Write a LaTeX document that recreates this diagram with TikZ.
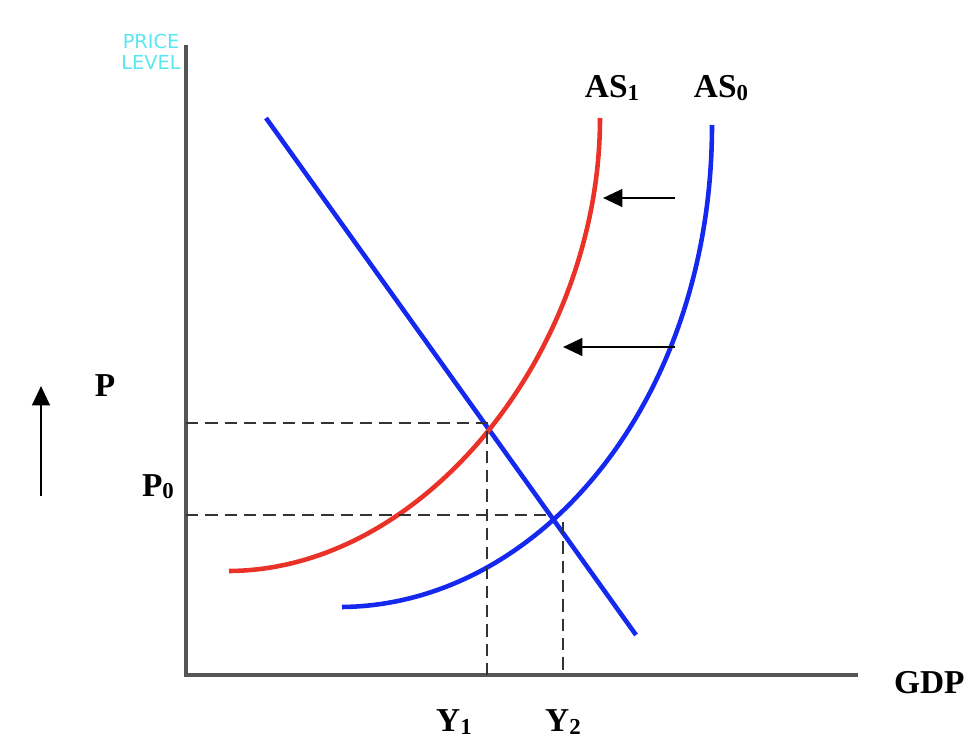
\documentclass[tikz,border=0pt]{standalone}
\usepackage{fontspec}
\setmainfont{Liberation Serif}
\newfontfamily\handfont{DejaVu Sans}
\usetikzlibrary{arrows.meta}
\definecolor{axisgray}{RGB}{85, 85, 85}
\definecolor{curvered}{RGB}{235, 50, 40}
\definecolor{curveblue}{RGB}{20, 40, 240}
\definecolor{handcyan}{RGB}{90, 230, 240}
\newcommand{\lowsub}[1]{\raisebox{-0.15ex}{\fontsize{13}{14}\selectfont #1}}

\begin{document}
\begin{tikzpicture}[x=0.02cm, y=-0.02cm,
    axis/.style={draw=axisgray, line width=2.6pt},
    curve/.style={line width=2.6pt},
    guide/.style={draw=black!80, line width=1.3pt, dash pattern=on 7pt off 4pt},
    shiftarrow/.style={-{Triangle[length=11pt,width=10pt]}, line width=1.5pt, black},
    lbl/.style={font=\fontsize{19}{22}\selectfont\bfseries, inner sep=1pt}
]
\useasboundingbox (0,0) rectangle (980,753);

%% axes
\coordinate (O)    at (186,675);
\coordinate (ytop) at (186,45);
\coordinate (xend) at (858,675);
\draw[axis] (ytop) -- (O) -- (xend);

%% equilibrium points
\coordinate (E1) at (487,423);
\coordinate (E0) at (553,515);

%% demand line
\coordinate (ADa) at (266,118);
\coordinate (ADb) at (636,635);
\draw[curve, curveblue] (ADa) -- (ADb);

%% supply curves
\coordinate (S1a) at (229,571);
\coordinate (S1b) at (600,118);
\draw[curve, curvered] (S1a) .. controls (425,570) and (600,350) .. (S1b);
\coordinate (S0a) at (342,607);
\coordinate (S0b) at (712,125);
\draw[curve, curveblue] (S0a) .. controls (540,605) and (712,400) .. (S0b);

%% dashed guides
\coordinate (P1axis) at (186,423);
\coordinate (P0axis) at (186,515);
\coordinate (Y1axis) at (487,675);
\coordinate (Y2top)  at (563,522);
\coordinate (Y2axis) at (563,675);
\draw[guide] (P1axis) -- (E1) -- (Y1axis);
\draw[guide] (P0axis) -- (E0);
\draw[guide] (Y2top) -- (Y2axis);

%% shift arrows
\coordinate (sh1a) at (675,198);
\coordinate (sh1b) at (603,198);
\coordinate (sh2a) at (675,347);
\coordinate (sh2b) at (563,347);
\draw[shiftarrow] (sh1a) -- (sh1b);
\draw[shiftarrow] (sh2a) -- (sh2b);

%% price up arrow
\coordinate (up0) at (41,496);
\coordinate (up1) at (41,386);
\draw[shiftarrow] (up0) -- (up1);

%% labels
\node[lbl] (as1) at (612,88)  {AS\lowsub{1}};
\node[lbl] (as0) at (721,88)  {AS\lowsub{0}};
\node[lbl] (p)   at (105,386) {P};
\node[lbl] (p0)  at (158,487) {P\lowsub{0}};
\node[lbl] (y1)  at (454,722) {Y\lowsub{1}};
\node[lbl] (y2)  at (563,722) {Y\lowsub{2}};
\node[lbl, anchor=west] (gdp) at (892,683) {GDP};
\node[font=\handfont\fontsize{11}{12}\selectfont, text=handcyan, align=center, inner sep=0pt]
    (price) at (151,52) {PRICE\\LEVEL};

\end{tikzpicture}
\end{document}
